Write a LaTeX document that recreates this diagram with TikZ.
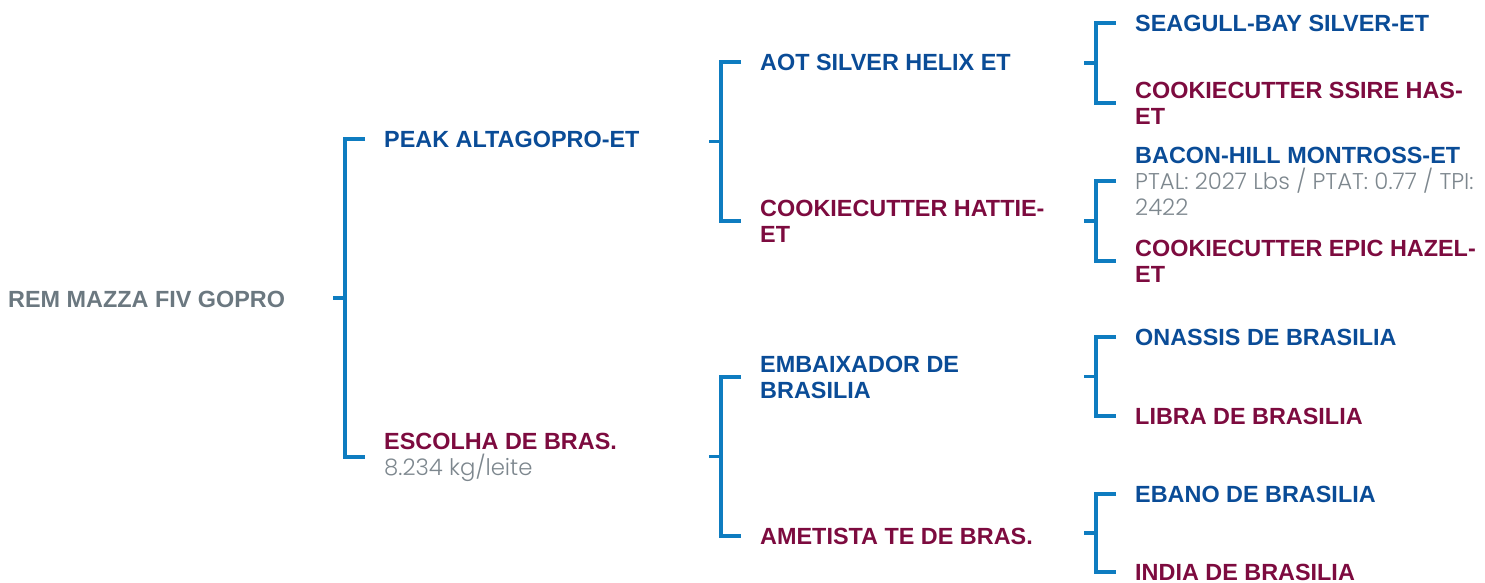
\documentclass[tikz,border=0pt]{standalone}
\usepackage{fontspec}
\setmainfont{Liberation Sans}
\newfontfamily\infofont{Poppins}[UprightFont=* Light]
\usetikzlibrary{positioning}
\usetikzlibrary{calc}
\definecolor{sireblue}{HTML}{0A4C97}
\definecolor{damred}{HTML}{7D0B3F}
\definecolor{linkblue}{HTML}{0E7CC0}
\definecolor{rootgray}{HTML}{6B7880}
\definecolor{infogray}{HTML}{7D878E}
\newcommand{\info}[1]{{\normalfont\infofont\fontsize{22.8}{22}\selectfont\color{infogray}#1}}
\tikzset{
    pedigree/.style={x=1pt,y=-1pt},
    animal/.style={anchor=west,inner sep=0pt,align=left,
                   font=\bfseries\fontsize{23.4}{26}\selectfont},
    sire/.style={animal,text=sireblue},
    dam/.style={animal,text=damred},
    rootanimal/.style={animal,text=rootgray},
    bracket/.style={draw=linkblue,line width=3.2pt},
    }

\begin{document}
\begin{tikzpicture}[pedigree]
            \useasboundingbox (0,0) rectangle (1485,583);

            \node[rootanimal] (r) at (8,299) {REM MAZZA FIV GOPRO};

            \node[sire] (s1) at (384,139) {PEAK ALTAGOPRO-ET};
            \node[dam] (d1) at (384,457) {ESCOLHA DE BRAS.\\\info{8.234 kg/leite}};

            \node[sire] (s2a) at (760,62) {AOT SILVER HELIX ET};
            \node[dam] (d2a) at (760,221) {COOKIECUTTER HATTIE-\\ET};
            \node[sire] (s2b) at (760,377) {EMBAIXADOR DE\\BRASILIA};
            \node[dam] (d2b) at (760,536) {AMETISTA TE DE BRAS.};

            \node[sire] (s3a) at (1135,23) {SEAGULL-BAY SILVER-ET};
            \node[dam] (d3a) at (1135,103) {COOKIECUTTER SSIRE HAS-\\ET};
            \node[sire] (s3b) at (1135,181) {BACON-HILL MONTROSS-ET\\\info{PTAL: 2027 Lbs / PTAT: 0.77 / TPI:}\\\info{2422}};
            \node[dam] (d3b) at (1135,261) {COOKIECUTTER EPIC HAZEL-\\ET};
            \node[sire] (s3c) at (1135,337) {ONASSIS DE BRASILIA};
            \node[dam] (d3c) at (1135,416) {LIBRA DE BRASILIA};
            \node[sire] (s3d) at (1135,494) {EBANO DE BRASILIA};
            \node[dam] (d3d) at (1135,572) {INDIA DE BRASILIA};

            % parents of the root
            \draw[bracket] ([xshift=-19pt]s1.west) -| ([xshift=-39pt]d1.west) -- ([xshift=-19pt]d1.west);
            \draw[bracket] ($(s1.west)!0.5!(d1.west)+(-51,0)$) -- ++(12,0);

            % grandparents
            \draw[bracket] ([xshift=-19pt]s2a.west) -| ([xshift=-39pt]d2a.west) -- ([xshift=-19pt]d2a.west);
            \draw[bracket] ($(s2a.west)!0.5!(d2a.west)+(-51,0)$) -- ++(12,0);
            \draw[bracket] ([xshift=-19pt]s2b.west) -| ([xshift=-39pt]d2b.west) -- ([xshift=-19pt]d2b.west);
            \draw[bracket] ($(s2b.west)!0.5!(d2b.west)+(-51,0)$) -- ++(12,0);

            % great-grandparents
            \draw[bracket] ([xshift=-19pt]s3a.west) -| ([xshift=-39pt]d3a.west) -- ([xshift=-19pt]d3a.west);
            \draw[bracket] ($(s3a.west)!0.5!(d3a.west)+(-51,0)$) -- ++(12,0);
            \draw[bracket] ([xshift=-19pt]s3b.west) -| ([xshift=-39pt]d3b.west) -- ([xshift=-19pt]d3b.west);
            \draw[bracket] ($(s3b.west)!0.5!(d3b.west)+(-51,0)$) -- ++(12,0);
            \draw[bracket] ([xshift=-19pt]s3c.west) -| ([xshift=-39pt]d3c.west) -- ([xshift=-19pt]d3c.west);
            \draw[bracket] ($(s3c.west)!0.5!(d3c.west)+(-51,0)$) -- ++(12,0);
            \draw[bracket] ([xshift=-19pt]s3d.west) -| ([xshift=-39pt]d3d.west) -- ([xshift=-19pt]d3d.west);
            \draw[bracket] ($(s3d.west)!0.5!(d3d.west)+(-51,0)$) -- ++(12,0);
        \end{tikzpicture}
\end{document}
